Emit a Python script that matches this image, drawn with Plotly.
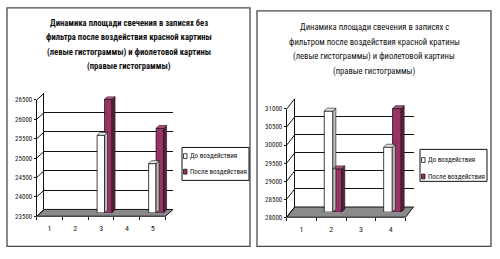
import plotly.graph_objects as go

# ---------------- data ----------------
left_categories = ["1", "2", "3", "4", "5"]
left_before = [None, None, 25500, None, 24770]
left_after = [None, None, 26430, None, 25680]
left_ticks = [23500, 24000, 24500, 25000, 25500, 26000, 26500]

right_categories = ["1", "2", "3", "4"]
right_before = [None, 30800, None, 29800]
right_after = [None, 29200, None, 30870]
right_ticks = [28000, 28500, 29000, 29500, 30000, 30500, 31000]

series_names = ["До воздействия", "После воздействия"]

left_title = ["Динамика площади свечения в записях без",
              "фильтра после воздействия красной картины",
              "(левые гистограммы) и фиолетовой картины",
              "(правые гистограммы)"]
right_title = ["Динамика площади свечения в записях с",
               "фильтром после воздействия красной кратины",
               "(левые гистограммы) и фиолетовой картины",
               "(правые гистограммы)"]

# ---------------- style ----------------
W, H = 500, 259
FONT = "Liberation Sans Narrow, Arial Narrow, Roboto Condensed, DejaVu Sans Condensed, sans-serif"
WHITE, WHITE_SIDE, WHITE_TOP = "#ffffff", "#bdbdbd", "#e6e6e6"
PURP, PURP_SIDE, PURP_TOP = "#993366", "#5e1f3f", "#b0527f"
FLOOR = "#8a8a8a"
EDGE = "#111111"


def px(x):
    return x / W


def py(y):
    return 1 - y / H


fig = go.Figure()
shapes = []
annotations = []

panels = [
    dict(cats=left_categories, before=left_before, after=left_after, ticks=left_ticks,
         fx0=36.7, fx1=165.5, ftop=99, fbot=219, dx=7.5, dy=7,
         off_w=-0.30, off_p=-0.01, bw=0.29,
         frame=(7, 4, 250, 250), legend=(182, 148, 249, 182, 157, 173),
         title=left_title, tx=128.5, ty=[19.5, 34.5, 49.8, 64.8], tbold=True, tsize=8.6,
         ax=["", "2", "3"]),
    dict(cats=right_categories, before=right_before, after=right_after, ticks=right_ticks,
         fx0=286.7, fx1=405.5, ftop=108.3, fbot=220, dx=8, dy=10.5,
         off_w=-0.37, off_p=-0.07, bw=0.29,
         frame=(257, 7, 491, 250), legend=(420, 150, 487, 183, 161, 178),
         title=right_title, tx=374, ty=[23.3, 38.8, 54.3, 69.8], tbold=False, tsize=8.6,
         ax=["4", "5", "6"]),
]

for p in panels:
    n = len(p["cats"])
    ymin, ymax = p["ticks"][0], p["ticks"][-1]
    xs = list(range(1, n + 1))
    fx0, fx1, ftop, fbot, dx, dy = p["fx0"], p["fx1"], p["ftop"], p["fbot"], p["dx"], p["dy"]
    a_front, a_back, a_bar = p["ax"]
    xf, yf = "x" + a_front, "y" + a_front
    xb, yb = "x" + a_back, "y" + a_back
    xc, yc = "x" + a_bar, "y" + a_bar
    lay = lambda s: ("xaxis" if s[0] == "x" else "yaxis") + s[1:]

    # front axes: ticks + labels
    fig.layout[lay(xf)] = dict(
        domain=[px(fx0), px(fx1)], range=[0.5, n + 0.5], anchor=yf,
        tickmode="array", tickvals=xs, ticktext=p["cats"], ticks="", showgrid=False,
        zeroline=False, showline=False, ticklabelstandoff=6,
        tickfont=dict(family=FONT, size=8, color="#222"),
        minor=dict(tickmode="array", tickvals=[i + 0.5 for i in range(n + 1)],
                   ticks="outside", ticklen=3, tickcolor=EDGE, showgrid=False),
        fixedrange=True)
    fig.layout[lay(yf)] = dict(
        domain=[py(fbot), py(ftop)], range=[ymin, ymax], anchor=xf,
        tickmode="array", tickvals=p["ticks"], ticktext=[str(t) for t in p["ticks"]],
        ticks="outside", ticklen=2,
        tickcolor=EDGE, showline=True, linecolor=EDGE, linewidth=1,
        showgrid=False, zeroline=False,
        tickfont=dict(family=FONT, size=7, color="#222"), fixedrange=True)
    # back wall axes: gridlines
    fig.layout[lay(xb)] = dict(
        domain=[px(fx0 + dx), px(fx1 + dx)], range=[0.5, n + 0.5], anchor=yb,
        visible=False, fixedrange=True)
    fig.layout[lay(yb)] = dict(
        domain=[py(fbot - dy), py(ftop - dy)], range=[ymin, ymax], anchor=xb,
        tickmode="array", tickvals=p["ticks"], showticklabels=False, ticks="",
        showgrid=True, gridcolor=EDGE, gridwidth=1, zeroline=False,
        showline=True, linecolor=EDGE, linewidth=1, fixedrange=True)
    # bar axes (mid depth)
    fig.layout[lay(xc)] = dict(
        domain=[px(fx0 + dx / 2), px(fx1 + dx / 2)], range=[0.5, n + 0.5], anchor=yc,
        visible=False, fixedrange=True)
    fig.layout[lay(yc)] = dict(
        domain=[py(fbot - dy / 2), py(ftop - dy / 2)], range=[ymin, ymax], anchor=xc,
        visible=False, fixedrange=True)

    # placeholder traces so that the front and back subplots get drawn
    for xa, ya in [(xb, yb), (xf, yf)]:
        fig.add_trace(go.Scatter(x=[None], y=[None], xaxis=xa, yaxis=ya,
                                 showlegend=False, hoverinfo="skip"))

    # bars
    for vals, off, col, name in [(p["before"], p["off_w"], WHITE, series_names[0]),
                                 (p["after"], p["off_p"], PURP, series_names[1])]:
        fig.add_trace(go.Bar(
            x=xs, y=[None if v is None else v - ymin for v in vals], base=ymin,
            width=p["bw"], offset=off, marker=dict(color=col, line=dict(color=EDGE, width=0.8)),
            name=name, showlegend=False, xaxis=xc, yaxis=yc, hoverinfo="skip"))

    # 3D faces of bars (data units converted from pixels)
    depth = 3.0
    xpp = n / (fx1 - fx0)
    ypp = (ymax - ymin) / (fbot - ftop)
    ddx, ddy = depth * xpp, depth * ypp
    for vals, off, side, top in [(p["before"], p["off_w"], WHITE_SIDE, WHITE_TOP),
                                 (p["after"], p["off_p"], PURP_SIDE, PURP_TOP)]:
        for xi, v in zip(xs, vals):
            if v is None:
                continue
            xl = xi + off
            xr = xl + p["bw"]
            shapes.append(dict(type="path", xref=xc, yref=yc, layer="above",
                               path=f"M{xr},{ymin} L{xr},{v} L{xr+ddx},{v+ddy} L{xr+ddx},{ymin+ddy} Z",
                               fillcolor=side, line=dict(color=EDGE, width=0.6)))
            shapes.append(dict(type="path", xref=xc, yref=yc, layer="above",
                               path=f"M{xl},{v} L{xr},{v} L{xr+ddx},{v+ddy} L{xl+ddx},{v+ddy} Z",
                               fillcolor=top, line=dict(color=EDGE, width=0.6)))

    # floor
    shapes.append(dict(type="path", xref="paper", yref="paper", layer="below",
                       path=(f"M{px(fx0)},{py(fbot)} L{px(fx1)},{py(fbot)} "
                             f"L{px(fx1+dx)},{py(fbot-dy)} L{px(fx0+dx)},{py(fbot-dy)} Z"),
                       fillcolor=FLOOR, line=dict(color=EDGE, width=1)))
    # side-wall slanted gridline segments
    for t in p["ticks"]:
        yy = fbot - (t - ymin) / (ymax - ymin) * (fbot - ftop)
        shapes.append(dict(type="line", xref="paper", yref="paper", layer="above",
                           x0=px(fx0), y0=py(yy), x1=px(fx0 + dx), y1=py(yy - dy),
                           line=dict(color=EDGE, width=1)))

    # panel frame
    fx_0, fy_0, fx_1, fy_1 = p["frame"]
    shapes.append(dict(type="rect", xref="paper", yref="paper", layer="above",
                       x0=px(fx_0), y0=py(fy_1), x1=px(fx_1), y1=py(fy_0),
                       line=dict(color="#4a4a4a", width=1.3)))

    # legend (manual)
    lx0, ly0, lx1, ly1, e1, e2 = p["legend"]
    shapes.append(dict(type="rect", xref="paper", yref="paper", layer="above",
                       x0=px(lx0), y0=py(ly1), x1=px(lx1), y1=py(ly0),
                       line=dict(color=EDGE, width=1), fillcolor="white"))
    for ey, col, name in [(e1, WHITE, series_names[0]), (e2, PURP, series_names[1])]:
        shapes.append(dict(type="rect", xref="paper", yref="paper", layer="above",
                           x0=px(lx0 + 1.5), y0=py(ey + 2.5), x1=px(lx0 + 5), y1=py(ey - 2.5),
                           line=dict(color=EDGE, width=0.8), fillcolor=col))
        annotations.append(dict(xref="paper", yref="paper", x=px(lx0 + 5.5), y=py(ey),
                                xanchor="left", yanchor="middle", showarrow=False,
                                text=name, font=dict(family=FONT, size=7.0, color="#111")))

    # title
    for line, ty in zip(p["title"], p["ty"]):
        txt = f"<b>{line}</b>" if p["tbold"] else line
        annotations.append(dict(xref="paper", yref="paper", x=px(p["tx"]), y=py(ty),
                                xanchor="center", yanchor="middle", showarrow=False,
                                text=txt, font=dict(family=FONT, size=p["tsize"], color="#111")))

fig.update_layout(
    width=W, height=H, autosize=False,
    margin=dict(l=0, r=0, t=0, b=0),
    paper_bgcolor="white", plot_bgcolor="rgba(0,0,0,0)",
    barmode="overlay", showlegend=False,
    shapes=shapes, annotations=annotations,
)

fig.write_html("out.html")
